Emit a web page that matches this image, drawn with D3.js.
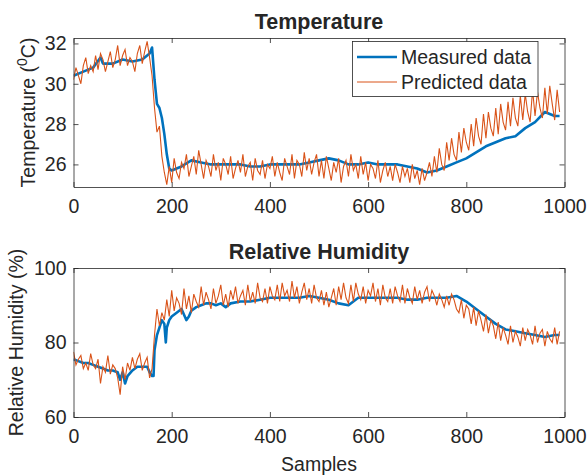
<!DOCTYPE html>
<html>
<head>
<meta charset="utf-8">
<script src="https://cdn.jsdelivr.net/npm/d3@7"></script>
<style>
  body { margin: 0; background: #fff; }
  text { font-family: "Liberation Sans", Arial, sans-serif; fill: #262626; }
</style>
</head>
<body>
<script>
// sample spacing of the predicted series (one value every 5 samples)
const predictedStep = 5;

const tempMeasuredSamples = [0, 20, 40, 55, 60, 80, 100, 120, 140, 150, 155, 160, 165, 170, 175, 180, 185, 190, 195, 200, 220, 240, 260, 280, 300, 320, 340, 360, 380, 400, 420, 440, 460, 480, 500, 520, 540, 560, 580, 600, 620, 640, 660, 680, 700, 720, 740, 760, 780, 800, 820, 840, 860, 880, 900, 920, 940, 960, 970, 980, 990];
const tempMeasured = [30.4, 30.6, 30.8, 31.3, 31.0, 31.0, 31.2, 31.1, 31.2, 31.4, 31.5, 31.8, 30.2, 29.0, 28.8, 28.3, 27.5, 26.5, 25.8, 25.7, 25.9, 26.2, 26.1, 26.0, 26.0, 26.0, 26.0, 25.9, 25.9, 26.0, 26.0, 26.0, 26.0, 26.1, 26.2, 26.3, 26.2, 26.0, 26.0, 26.1, 26.0, 26.0, 26.0, 25.9, 25.8, 25.6, 25.7, 25.9, 26.1, 26.3, 26.6, 26.9, 27.1, 27.3, 27.4, 27.8, 28.1, 28.6, 28.5, 28.4, 28.4];

const tempPredicted = [
  30.2, 30.8, 30.4, 30.0, 30.9, 31.3, 30.5, 30.9, 30.6, 31.4, 30.7, 31.5, 31.2, 30.6, 31.1, 31.6, 30.8, 31.2, 31.9, 30.9,
  31.4, 31.7, 30.9, 31.3, 31.1, 30.6, 31.5, 31.9, 31.0, 31.6, 32.1, 31.3, 30.4,
  28.8, 27.6, 27.9, 26.4, 25.6, 25.0, 25.9, 25.1,
  26.3, 25.6, 25.3, 26.1, 25.8, 26.5, 25.4, 25.9, 26.4, 25.5, 26.7, 26.0, 25.3, 26.2, 25.9, 25.4, 26.5, 25.7, 26.1, 25.2,
  26.3, 26.0, 25.5, 26.4, 25.3, 25.8, 26.2, 25.6, 26.5, 25.4, 25.9, 26.1, 25.2, 26.3, 25.7, 25.5, 26.2, 25.3, 26.0, 25.8,
  26.4, 25.4, 26.1, 25.6, 25.2, 26.3, 25.9, 25.5, 26.5, 25.3, 26.2, 26.0, 25.4, 26.6, 25.7, 26.3, 25.5, 26.1, 26.5, 25.4,
  26.2, 25.3, 26.4, 25.8, 25.2, 26.1, 25.6, 26.3, 25.1, 25.9, 26.2, 25.4, 26.5, 25.7, 26.0, 25.3, 26.4, 25.5, 26.1, 25.2,
  26.0, 25.8, 25.3, 26.2, 25.1, 25.7, 26.1, 25.4, 25.9, 25.2, 26.0, 25.6, 25.1, 25.9, 25.4, 25.8, 25.1, 26.0, 25.3, 25.7,
  25.0, 25.8, 25.2, 25.6,
  26.1, 25.4, 26.4, 25.6, 26.8, 26.0, 25.7, 27.1, 26.2, 27.3, 26.5, 26.2, 27.6, 26.6, 27.8, 27.1, 26.7, 28.0, 26.9, 28.3,
  27.4, 27.0, 28.5, 27.3, 28.6, 27.8, 27.4, 28.8, 27.5, 29.0, 28.1, 27.7, 29.1, 27.9, 29.3, 28.3, 27.9, 29.4, 28.2, 29.5,
  28.6, 28.1, 29.7, 28.4, 29.6, 28.8, 28.3, 29.8, 28.5, 29.9, 29.0, 28.2, 29.7, 28.6
];

const humMeasuredSamples = [0, 10, 20, 30, 40, 50, 60, 70, 80, 90, 95, 100, 105, 110, 120, 130, 140, 150, 155, 160, 163, 165, 170, 175, 180, 185, 188, 190, 195, 200, 210, 220, 230, 235, 240, 250, 260, 270, 280, 290, 300, 310, 320, 340, 360, 380, 400, 420, 440, 460, 480, 500, 520, 540, 560, 570, 580, 600, 620, 640, 660, 680, 700, 720, 740, 760, 780, 800, 820, 840, 860, 880, 900, 920, 940, 960, 980, 990];
const humMeasured = [75.5, 75, 74.5, 74.5, 74, 73.5, 73, 72.5, 72.5, 72, 70, 72, 69, 71, 72.5, 73.5, 73.5, 73.5, 72, 71, 71, 78, 82, 84, 86, 85, 80, 84, 86, 87, 88, 89, 86, 87, 88.5, 89.5, 90, 90.5, 90.5, 90, 90.5, 89.5, 90.5, 91, 91, 91.5, 92, 92, 92, 92, 92.5, 92, 91.5, 90.5, 90, 91, 92, 92, 92, 92, 92, 91.5, 91.5, 92, 92, 92, 92.5, 91, 89, 87, 85, 83.5, 83, 82.5, 82, 81.5, 82, 82];

const humPredicted = [
  77.5, 74, 75.5, 76.5, 73, 74.5, 72.5, 77, 74, 73, 75.5, 69, 73.5, 72, 76.5, 71.5, 74, 73, 70.5, 66,
  73.5, 70, 74.5, 72.5, 76, 73, 75.5, 77, 72.5, 74.5, 76, 70.5, 73,
  82, 89, 84.5, 88, 86, 91.5, 87, 94,
  88.5, 92, 90.5, 87.5, 94.5, 89, 92.5, 88, 93, 91, 89.5, 95, 90, 93.5, 91.5, 89, 94.5, 90.5, 92.5, 95.5,
  90, 93, 89.5, 94, 91.5, 95, 90.5, 92.5, 94, 90, 95.5, 91, 93.5, 90.5, 96, 92, 91, 94.5, 90.5, 95,
  92.5, 91.5, 95.5, 91, 96, 92.5, 94, 91, 96.5, 92, 95, 90.5, 93.5, 96, 91.5, 94.5, 90.5, 95.5, 92, 91,
  94, 90, 93.5, 89.5, 92, 94.5, 90, 95, 91.5, 96, 92, 90.5, 95.5, 91, 96, 93, 91.5, 95, 90.5, 94,
  92.5, 96, 91, 94.5, 90, 95.5, 92, 91, 94.5, 90.5, 95, 92.5, 91, 95.5, 90.5, 94.5, 92, 90.5, 95, 91.5,
  94, 90.5, 93.5, 95, 91, 94, 92.5, 90, 93, 91.5, 89.5, 92.5, 90, 93, 91.5, 89,
  88, 91.5, 86.5, 90, 89, 85, 89.5, 84.5, 88.5, 86, 83, 87.5, 82.5, 86, 84.5, 81, 85.5, 80.5, 84, 82,
  79.5, 84.5, 80, 83, 81.5, 79, 84, 80.5, 83.5, 82, 79.5, 84.5, 80, 82.5, 83.5, 79, 83, 81, 80, 84, 79.5, 83
];

const xTicks = [0, 200, 400, 600, 800, 1000];
const tempTicks = [26, 28, 30, 32];
const humTicks = [60, 80, 100];

const W = 587, H = 475;
const measuredColor = '#0072BD';
const predictedColor = '#D95319';
const axisColor = '#262626';

const svg = d3.select('body').append('svg')
  .attr('width', W)
  .attr('height', H);

svg.append('rect').attr('width', W).attr('height', H).attr('fill', '#fff');

const x = d3.scaleLinear().domain([0, 1000]).range([73.5, 564.5]);

function panel(opts) {
  const y = d3.scaleLinear().domain(opts.yDomain).range([opts.bottom, opts.top]);
  const g = svg.append('g');
  const clipId = 'clip-' + opts.id;

  g.append('clipPath').attr('id', clipId)
    .append('rect')
    .attr('x', x.range()[0]).attr('y', opts.top)
    .attr('width', x.range()[1] - x.range()[0])
    .attr('height', opts.bottom - opts.top);

  const plot = g.append('g').attr('clip-path', `url(#${clipId})`);

  const line = d3.line()
    .x(d => x(d[0]))
    .y(d => y(d[1]));

  plot.append('path')
    .datum(opts.measuredX.map((s, i) => [s, opts.measured[i]]))
    .attr('fill', 'none')
    .attr('stroke', measuredColor)
    .attr('stroke-width', 2.6)
    .attr('stroke-linejoin', 'round')
    .attr('d', line);

  plot.append('path')
    .datum(opts.predicted.map((v, i) => [i * predictedStep, v]))
    .attr('fill', 'none')
    .attr('stroke', predictedColor)
    .attr('stroke-width', 1.1)
    .attr('d', line);

  // axes with inward ticks on all four sides (box on)
  const tick = 5;
  const fmt = d3.format('d');
  const axes = [
    [d3.axisBottom(x).tickValues(xTicks), `translate(0,${opts.bottom})`, true],
    [d3.axisTop(x).tickValues(xTicks), `translate(0,${opts.top})`, false],
    [d3.axisLeft(y).tickValues(opts.yTicks), `translate(${x.range()[0]},0)`, true],
    [d3.axisRight(y).tickValues(opts.yTicks), `translate(${x.range()[1]},0)`, false]
  ];
  axes.forEach(([ax, tr, labels], k) => {
    const a = g.append('g').attr('transform', tr)
      .call(ax.tickSize(tick).tickSizeOuter(0).tickFormat(fmt));
    a.select('.domain').attr('stroke', axisColor).attr('stroke-width', 0.8);
    a.selectAll('.tick line').attr('stroke', axisColor).attr('stroke-width', 0.8);
    // flip ticks inward
    if (k === 0) a.selectAll('.tick line').attr('y2', -tick);
    if (k === 1) a.selectAll('.tick line').attr('y2', tick);
    if (k === 2) a.selectAll('.tick line').attr('x2', tick);
    if (k === 3) a.selectAll('.tick line').attr('x2', -tick);
    a.selectAll('.tick text')
      .style('font-size', '19.5px')
      .attr('fill', axisColor)
      .style('display', labels ? null : 'none');
    if (k === 0) a.selectAll('.tick text').attr('y', 12);
    if (k === 2) a.selectAll('.tick text').attr('x', -7);
  });

  svg.append('text')
    .attr('x', (x.range()[0] + x.range()[1]) / 2)
    .attr('y', opts.top - 9)
    .attr('text-anchor', 'middle')
    .style('font-size', '21.5px')
    .style('font-weight', 'bold')
    .attr('fill', '#000')
    .text(opts.title);

  const yl = svg.append('text')
    .attr('transform', `translate(${opts.ylabelX},${(opts.top + opts.bottom) / 2}) rotate(-90)`)
    .attr('text-anchor', 'middle')
    .style('font-size', '19.5px');
  opts.ylabel(yl);

  return y;
}

panel({
  id: 'temp', top: 38, bottom: 187, yDomain: [24.88, 32.27], yTicks: tempTicks,
  measuredX: tempMeasuredSamples, measured: tempMeasured, predicted: tempPredicted,
  title: 'Temperature', ylabelX: 35,
  ylabel: t => {
    t.append('tspan').text('Temperature (');
    t.append('tspan').attr('dy', -8).style('font-size', '14px').text('0');
    t.append('tspan').attr('dy', 8).text('C)');
  }
});

panel({
  id: 'hum', top: 268, bottom: 417, yDomain: [60, 100], yTicks: humTicks,
  measuredX: humMeasuredSamples, measured: humMeasured, predicted: humPredicted,
  title: 'Relative Humidity', ylabelX: 23,
  ylabel: t => t.text('Relative Humidity (%)')
});

svg.append('text')
  .attr('x', (x.range()[0] + x.range()[1]) / 2)
  .attr('y', 471)
  .attr('text-anchor', 'middle')
  .style('font-size', '19.5px')
  .text('Samples');

// legend
const lg = svg.append('g');
lg.append('rect')
  .attr('x', 352.5).attr('y', 41.5)
  .attr('width', 185.5).attr('height', 55)
  .attr('fill', '#fff')
  .attr('stroke', axisColor)
  .attr('stroke-width', 0.8);
[['Measured data', measuredColor, 2.6, 57], ['Predicted data', predictedColor, 1, 82]].forEach(([label, c, w, ly]) => {
  lg.append('line')
    .attr('x1', 357).attr('x2', 397)
    .attr('y1', ly).attr('y2', ly)
    .attr('stroke', c).attr('stroke-width', w);
  lg.append('text')
    .attr('x', 401).attr('y', ly + 7)
    .style('font-size', '19.5px')
    .text(label);
});
</script>
</body>
</html>
